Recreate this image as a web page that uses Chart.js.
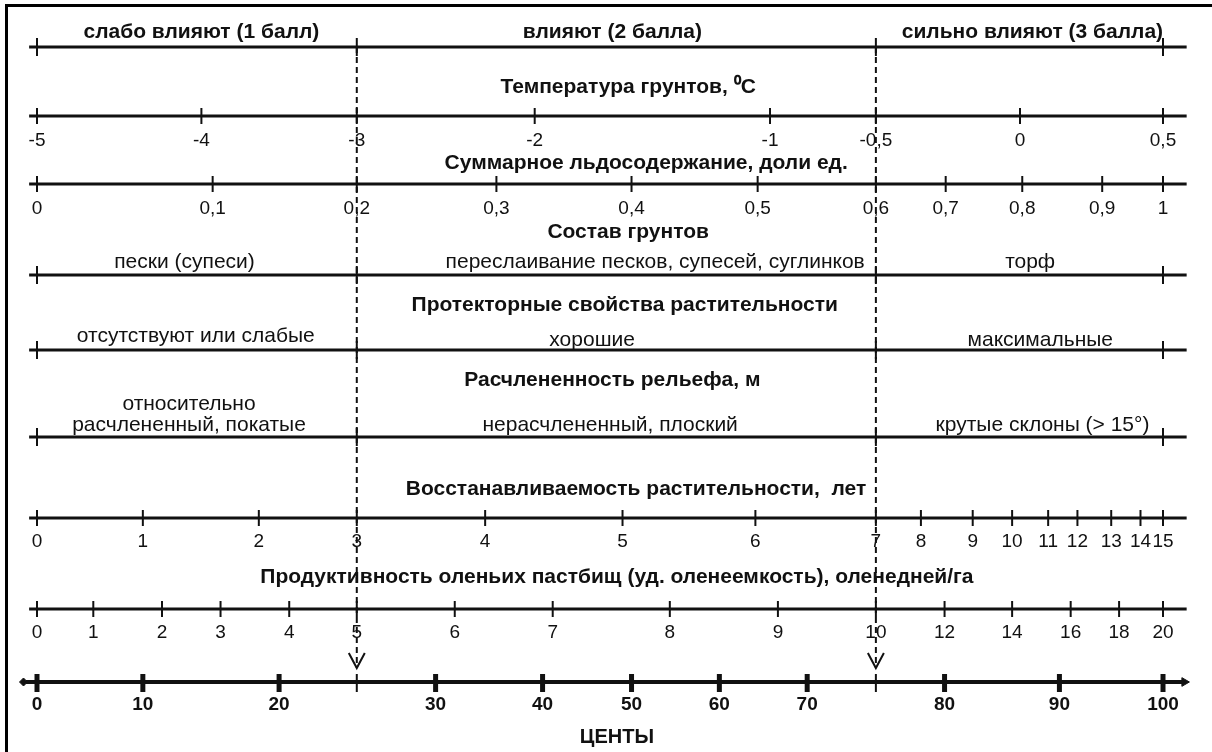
<!DOCTYPE html>
<html>
<head>
<meta charset="utf-8">
<script src="https://cdn.jsdelivr.net/npm/chart.js@4"></script>
<style>
  body { margin: 0; background: #fff; }
  #wrap { position: relative; width: 1212px; height: 752px; }
  #frame { position: absolute; left: 5px; top: 4px; right: 0; bottom: 0; border-top: 3px solid #000; border-left: 3px solid #000; pointer-events: none; }
</style>
</head>
<body>
<div id="wrap"><canvas id="chart" width="1212" height="752"></canvas><div id="frame"></div></div>
<script>
// Шкалы номограммы: подписи делений и место деления на оси (% длины оси)
const influenceLabels = ['слабо влияют (1 балл)', 'влияют (2 балла)', 'сильно влияют (3 балла)'];
const classBounds = [0, 28.4, 74.5, 100];

const tempTicks = ['-5', '-4', '-3', '-2', '-1', '-0,5', '0', '0,5'];
const tempPos = [0, 14.6, 28.4, 44.2, 65.1, 74.5, 87.3, 100];

const iceTicks = ['0', '0,1', '0,2', '0,3', '0,4', '0,5', '0,6', '0,7', '0,8', '0,9', '1'];
const icePos = [0, 15.6, 28.4, 40.8, 52.8, 64.0, 74.5, 80.7, 87.5, 94.6, 100];

const soilLabels = ['пески (супеси)', 'переслаивание песков, супесей, суглинков', 'торф'];
const protectLabels = ['отсутствуют или слабые', 'хорошие', 'максимальные'];
const reliefLabels = [['относительно', 'расчлененный, покатые'], ['нерасчлененный, плоский'], ['крутые склоны (> 15°)']];

const recoveryTicks = ['0', '1', '2', '3', '4', '5', '6', '7', '8', '9', '10', '11', '12', '13', '14', '15'];
const recoveryPos = [0, 9.4, 19.7, 28.4, 39.8, 52.0, 63.8, 74.5, 78.5, 83.1, 86.6, 89.8, 92.4, 95.4, 98.0, 100];

const pastureTicks = ['0', '1', '2', '3', '4', '5', '6', '7', '8', '9', '10', '12', '14', '16', '18', '20'];
const pasturePos = [0, 5.0, 11.1, 16.3, 22.4, 28.4, 37.1, 45.8, 56.2, 65.8, 74.5, 80.6, 86.6, 91.8, 96.1, 100];

const centileTicks = ['0', '10', '20', '30', '40', '50', '60', '70', '80', '90', '100'];
const centilePos = [0, 9.4, 21.5, 35.4, 44.9, 52.8, 60.6, 68.4, 80.6, 90.8, 100];
const centileMarks = [28.4, 74.5]; // 25 и 75 центов

const titles = [
  'Температура грунтов, \u2070C',
  'Суммарное льдосодержание, доли ед.',
  'Состав грунтов',
  'Протекторные свойства растительности',
  'Расчлененность рельефа, м',
  'Восстанавливаемость растительности,  лет',
  'Продуктивность оленьих пастбищ (уд. оленеемкость), оленедней/га'
];
const axisName = 'ЦЕНТЫ';

// --- разметка ---
const X_MIN = -3.286, X_MAX = 104.351;
const U = (X_MAX - X_MIN) / 1212; // единиц оси на пиксель
const rowY = { infl: 47, temp: 116, ice: 184, soil: 275, prot: 350, relief: 437, rec: 518, past: 609, cent: 682 };
const titleY = [85, 161, 230, 303, 378, 487, 575];
const titleX = [52.5, 54.1, 52.5, 52.2, 51.1, 53.2, 51.5];
const infX = [14.6, 51.1, 88.4];
const soilX = [13.1, 54.9, 88.2];
const protX = [14.1, 49.3, 89.1];
const reliefX = [13.5, 50.9, 89.3];
const TEXT_DY = 2; // сдвиг базовой линии 'middle'
const INK = '#111';
const FONT = '"Liberation Sans", Arial, sans-serif';
const fBold = 'bold 21px ' + FONT;
const fText = '21px ' + FONT;
const fTick = '19px ' + FONT;
const fCent = 'bold 19px ' + FONT;

function hline(y, x0, x1, w) {
  return { data: [{ x: x0, y: y }, { x: x1, y: y }], showLine: true, borderColor: INK, borderWidth: w, pointRadius: 0 };
}
function ticks(pos, y, r, w) {
  return {
    data: pos.map(function(p) { return { x: p, y: y }; }),
    showLine: false, pointStyle: 'line', pointRotation: 90,
    pointRadius: r, pointBorderWidth: w, pointBorderColor: INK
  };
}

let datasets = [];
[rowY.infl, rowY.temp, rowY.ice, rowY.soil, rowY.prot, rowY.relief, rowY.rec, rowY.past].forEach(function(y) {
  datasets.push(hline(y, -0.7, 102.1, 3));
});
datasets.push(hline(rowY.cent, -1.0, 101.9, 4));

[rowY.infl, rowY.soil, rowY.prot, rowY.relief].forEach(function(y) {
  datasets.push(ticks(classBounds, y, 9, 2));
});
datasets.push(ticks(tempPos, rowY.temp, 8, 2));
datasets.push(ticks(icePos, rowY.ice, 8, 2));
datasets.push(ticks(recoveryPos, rowY.rec, 8, 2));
datasets.push(ticks(pasturePos, rowY.past, 8, 2));
datasets.push(ticks(centilePos, rowY.cent + 1, 9, 5));
datasets.push(ticks(centileMarks, rowY.cent + 1, 9, 2));

// пунктир и стрелки на 25 и 75 центах
centileMarks.forEach(function(p) {
  datasets.push({ data: [{ x: p, y: rowY.infl }, { x: p, y: 668 }], showLine: true, borderColor: INK, borderWidth: 2, borderDash: [6, 4], pointRadius: 0 });
  datasets.push({ data: [{ x: p - 8 * U, y: 653 }, { x: p, y: 668 }, { x: p + 8 * U, y: 653 }], showLine: true, borderColor: INK, borderWidth: 2, pointRadius: 0 });
});
// концы оси центов
datasets.push({ data: [{ x: -1.2, y: rowY.cent }], showLine: false, pointStyle: 'rectRot', pointRadius: 4, pointBackgroundColor: INK, pointBorderColor: INK, pointBorderWidth: 1 });
datasets.push({ data: [{ x: 101.9, y: rowY.cent }], showLine: false, pointStyle: 'triangle', pointRotation: 90, pointRadius: 5, pointBackgroundColor: INK, pointBorderColor: INK, pointBorderWidth: 1 });

// тексты
let texts = [];
titles.forEach(function(t, i) { texts.push({ text: t, x: titleX[i], y: titleY[i], font: fBold }); });
influenceLabels.forEach(function(t, i) { texts.push({ text: t, x: infX[i], y: 30, font: fBold }); });
soilLabels.forEach(function(t, i) { texts.push({ text: t, x: soilX[i], y: 260, font: fText }); });
protectLabels.forEach(function(t, i) { texts.push({ text: t, x: protX[i], y: i === 0 ? 334 : 338, font: fText }); });
reliefLabels.forEach(function(lines, i) {
  lines.forEach(function(t, j) { texts.push({ text: t, x: reliefX[i], y: 423 - (lines.length - 1 - j) * 21, font: fText }); });
});
tempTicks.forEach(function(t, i) { texts.push({ text: t, x: tempPos[i], y: rowY.temp + 23, font: fTick }); });
iceTicks.forEach(function(t, i) { texts.push({ text: t, x: icePos[i], y: rowY.ice + 23, font: fTick }); });
recoveryTicks.forEach(function(t, i) { texts.push({ text: t, x: recoveryPos[i], y: rowY.rec + 22, font: fTick }); });
pastureTicks.forEach(function(t, i) { texts.push({ text: t, x: pasturePos[i], y: rowY.past + 22, font: fTick }); });
centileTicks.forEach(function(t, i) { texts.push({ text: t, x: centilePos[i], y: rowY.cent + 21, font: fCent }); });
texts.push({ text: axisName, x: 51.5, y: 735, font: 'bold 20px ' + FONT });

const textPlugin = {
  id: 'nomoText',
  afterDatasetsDraw: function(chart) {
    const ctx = chart.ctx, sx = chart.scales.x, sy = chart.scales.y;
    ctx.save();
    ctx.fillStyle = INK;
    ctx.textAlign = 'center';
    ctx.textBaseline = 'middle';
    texts.forEach(function(t) {
      ctx.font = t.font;
      ctx.fillText(t.text, sx.getPixelForValue(t.x), sy.getPixelForValue(t.y) + TEXT_DY);
    });
    ctx.restore();
  }
};

new Chart(document.getElementById('chart').getContext('2d'), {
  type: 'scatter',
  data: { datasets: datasets },
  options: {
    responsive: false,
    animation: false,
    events: [],
    layout: { padding: 0, autoPadding: false },
    plugins: { legend: { display: false }, tooltip: { enabled: false } },
    scales: {
      x: { type: 'linear', min: X_MIN, max: X_MAX, display: false },
      y: { type: 'linear', min: 0, max: 752, reverse: true, display: false }
    }
  },
  plugins: [textPlugin]
});
</script>
</body>
</html>
